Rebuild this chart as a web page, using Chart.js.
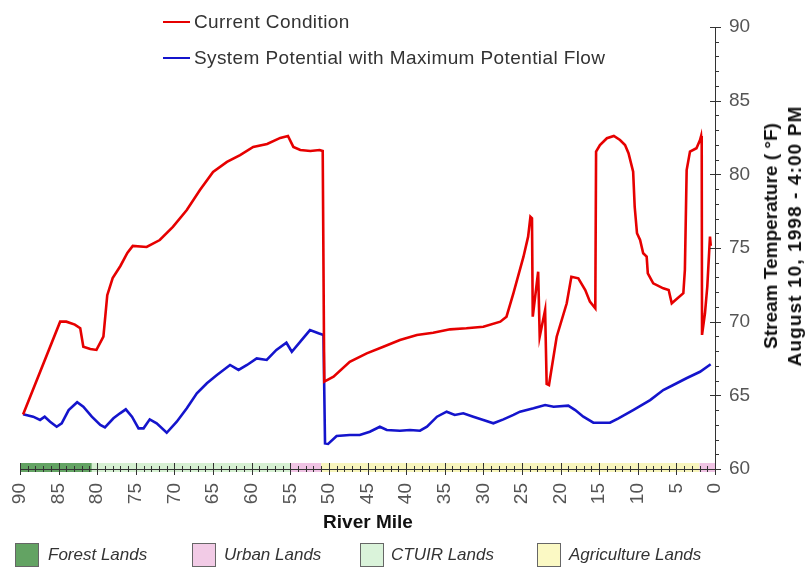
<!DOCTYPE html>
<html>
<head>
<meta charset="utf-8">
<title>Stream Temperature by River Mile</title>
<script src="https://cdn.jsdelivr.net/npm/chart.js@4/dist/chart.umd.min.js"></script>
<style>
  html, body { margin: 0; padding: 0; background: #fff; }
  #wrap { position: relative; width: 809px; height: 567px; overflow: hidden;
          font-family: "Liberation Sans", Arial, sans-serif; color: #333; }
  #chart { position: absolute; left: 0; top: 0; }
  .txt { position: absolute; white-space: nowrap; line-height: 22px; }
  .key-line { position: absolute; height: 2px; width: 27px; }
  .key-text { font-size: 19px; color: #333; letter-spacing: 0.4px; }
  .land-box { position: absolute; width: 22px; height: 22px; border: 1px solid #666; }
  .land-text { font-size: 17px; font-style: italic; color: #333; }
  .axis-title { font-size: 19px; font-weight: bold; color: #111; }
  #ytitle { position: absolute; left: 783px; top: 236px; transform: translate(-50%, -50%) rotate(-90deg);
            text-align: center; white-space: nowrap; line-height: 24px; font-size: 19px; font-weight: bold; color: #111; }
  #ytitle .l2 { letter-spacing: 1.1px; }
</style>
</head>
<body>
<div id="wrap">
  <canvas id="chart" width="809" height="567"></canvas>

  <div class="key-line" style="left:163px;top:21px;background:#e60000"></div>
  <div class="txt key-text" style="left:194px;top:11px">Current Condition</div>
  <div class="key-line" style="left:163px;top:57px;background:#1414cc"></div>
  <div class="txt key-text" style="left:194px;top:47px">System Potential with Maximum Potential Flow</div>

  <div class="txt axis-title" style="left:268px;top:511px;width:200px;text-align:center">River Mile</div>
  <div id="ytitle">Stream Temperature ( °F)<br><span class="l2">August 10, 1998 - 4:00 PM</span></div>

  <div class="land-box" style="left:15px;top:543px;background:#63a363"></div>
  <div class="txt land-text" style="left:48px;top:544px">Forest Lands</div>
  <div class="land-box" style="left:192px;top:543px;background:#f2cbe6"></div>
  <div class="txt land-text" style="left:224px;top:544px">Urban Lands</div>
  <div class="land-box" style="left:360px;top:543px;background:#daf3da"></div>
  <div class="txt land-text" style="left:391px;top:544px">CTUIR Lands</div>
  <div class="land-box" style="left:537px;top:543px;background:#fbf9c4"></div>
  <div class="txt land-text" style="left:569px;top:544px">Agriculture Lands</div>
</div>

<script>
// Current condition: river mile and stream temperature (°F)
const currentMile = [
  89.6, 84.8, 84.0, 82.9, 82.2, 81.8, 80.9, 80.1, 79.2, 78.7, 78.0, 77.0, 76.1, 75.4, 73.6,
  71.9, 70.2, 68.4, 66.7, 65.0, 63.2, 61.5, 59.8, 58.0, 56.3, 55.3, 54.6, 53.7, 52.4, 51.2,
  50.8, 50.6, 49.4, 47.3, 45.1, 42.95, 40.8, 38.6, 36.5, 34.3, 32.2, 30.0, 27.8, 27.0, 26.1,
  24.8, 24.2, 23.9, 23.7, 23.6, 22.9, 22.7, 22.0, 21.8, 21.5, 20.5, 19.2, 18.6, 17.7, 16.8,
  16.2, 15.5, 15.4, 14.9, 14.0, 13.1, 12.3, 11.65, 11.2, 10.6, 10.4, 10.1, 9.7, 9.3, 8.85,
  8.7, 8.0, 6.7, 6.0, 5.6, 4.1, 3.9, 3.67, 3.24, 2.4, 1.94, 1.8, 1.72, 1.68, 1.3,
  1.0, 0.65, 0.55
];
const currentTemp = [
  63.7, 70.0, 70.0, 69.8, 69.55, 68.3, 68.14, 68.08, 68.98, 71.8, 72.96, 73.78, 74.66, 75.14, 75.07,
  75.54, 76.43, 77.58, 78.94, 80.16, 80.84, 81.31, 81.86, 82.06, 82.47, 82.6, 81.86, 81.65, 81.58, 81.65,
  81.58, 65.93, 66.26, 67.28, 67.85, 68.3, 68.76, 69.1, 69.25, 69.48, 69.55, 69.66, 70.0, 70.34, 71.93,
  74.41, 75.77, 77.12, 77.02, 70.34, 73.39, 68.98, 70.79, 65.77, 65.7, 68.98, 71.25, 73.05, 72.94, 72.15,
  71.36, 70.91, 81.54, 81.99, 82.45, 82.6, 82.33, 81.99, 81.43, 80.18, 77.8, 76.0, 75.54, 74.64, 74.41,
  73.28, 72.6, 72.26, 72.15, 71.25, 71.93, 73.51, 80.29, 81.54, 81.77, 82.33, 82.6, 82.0, 69.1, 70.57,
  72.37, 75.77, 75.14
];

// System potential with maximum potential flow
const potentialMile = [
  89.6, 88.3, 87.4, 86.8, 86.1, 85.25, 84.6, 83.7, 82.6, 81.8, 80.7, 79.6, 79.0, 77.9, 77.05,
  76.3, 75.5, 74.65, 74.0, 73.2, 72.3, 71.0, 69.7, 68.4, 67.1, 65.8, 64.5, 62.8, 61.7, 60.6,
  59.35, 58.05, 56.8, 55.5, 54.8, 53.7, 52.45, 51.35, 50.7, 50.5, 50.1, 49.0, 47.3, 46.0, 44.7,
  43.4, 42.5, 40.8, 39.5, 38.2, 37.3, 36.0, 34.75, 33.7, 32.6, 31.3, 30.0, 28.7, 27.4, 26.1,
  25.25, 23.5, 22.0, 20.9, 19.0, 18.1, 17.05, 15.75, 13.6, 12.5, 10.6, 8.4, 6.7, 5.4, 3.7,
  1.94, 0.56
];
const potentialTemp = [
  63.71, 63.55, 63.33, 63.55, 63.21, 62.87, 63.1, 64.0, 64.53, 64.23, 63.55, 62.99, 62.83, 63.44, 63.78,
  64.05, 63.55, 62.76, 62.76, 63.37, 63.1, 62.46, 63.21, 64.12, 65.14, 65.82, 66.38, 67.06, 66.72, 67.06,
  67.51, 67.4, 68.08, 68.57, 67.96, 68.64, 69.43, 69.21, 69.1, 61.74, 61.7, 62.24, 62.31, 62.31, 62.53,
  62.87, 62.65, 62.6, 62.65, 62.6, 62.87, 63.55, 63.89, 63.67, 63.78, 63.55, 63.33, 63.1, 63.37, 63.67,
  63.89, 64.12, 64.34, 64.23, 64.3, 64.0, 63.55, 63.14, 63.14, 63.44, 64.0, 64.68, 65.36, 65.7, 66.16,
  66.6, 67.11
];

// Tick values
const mileTicks = [90, 85, 80, 75, 70, 65, 60, 55, 50, 45, 40, 35, 30, 25, 20, 15, 10, 5, 0];
const tempTicks = [60, 65, 70, 75, 80, 85, 90];

// Land use along the river (river-mile ranges)
const landFrom = [90, 80.7, 55, 51, 2];
const landTo   = [80.7, 55, 51, 2, 0];
const landKind = ['Forest Lands', 'CTUIR Lands', 'Urban Lands', 'Agriculture Lands', 'Urban Lands'];

const landColor = {
  'Forest Lands': '#63a363',
  'Urban Lands': '#f0c4e4',
  'CTUIR Lands': '#d6f0d2',
  'Agriculture Lands': '#f8f5bc'
};

const toPoints = (xs, ys) => xs.map((m, i) => ({ x: m, y: ys[i] }));

// Land-use strip, axis lines and major/minor tick marks
const axisDecor = {
  id: 'axisDecor',
  beforeDatasetsDraw(chart) {
    const { ctx, chartArea: a, scales: { x } } = chart;
    ctx.save();
    for (let i = 0; i < landFrom.length; i++) {
      const x0 = x.getPixelForValue(landFrom[i]);
      const x1 = x.getPixelForValue(landTo[i]);
      ctx.fillStyle = landColor[landKind[i]];
      ctx.fillRect(Math.min(x0, x1), a.bottom - 6, Math.abs(x1 - x0), 9);
    }
    ctx.restore();
  },
  afterDraw(chart) {
    const { ctx, chartArea: a, scales: { x, y } } = chart;
    ctx.save();
    ctx.strokeStyle = '#333';
    ctx.lineWidth = 1;
    ctx.beginPath();
    // river-mile axis
    ctx.moveTo(a.left, a.bottom + 0.5);
    ctx.lineTo(a.right, a.bottom + 0.5);
    for (let m = 0; m <= 90; m++) {
      const px = Math.round(x.getPixelForValue(m)) + 0.5;
      const major = m % 5 === 0;
      ctx.moveTo(px, a.bottom - (major ? 6 : 3));
      ctx.lineTo(px, a.bottom + (major ? 6 : 3));
    }
    // temperature axis
    ctx.moveTo(a.right + 0.5, a.top);
    ctx.lineTo(a.right + 0.5, a.bottom);
    for (let t = 60; t <= 90; t++) {
      const py = Math.round(y.getPixelForValue(t)) + 0.5;
      const major = t % 5 === 0;
      ctx.moveTo(a.right - (major ? 5 : 0), py);
      ctx.lineTo(a.right + (major ? 6 : 4), py);
    }
    ctx.stroke();
    ctx.restore();
  }
};

Chart.defaults.font.family = '"Liberation Sans", Arial, sans-serif';

new Chart(document.getElementById('chart'), {
  type: 'line',
  data: {
    datasets: [
      {
        label: 'Current Condition',
        data: toPoints(currentMile, currentTemp),
        borderColor: '#e60000',
        borderWidth: 2.6,
        pointRadius: 0,
        tension: 0
      },
      {
        label: 'System Potential with Maximum Potential Flow',
        data: toPoints(potentialMile, potentialTemp),
        borderColor: '#1414cc',
        borderWidth: 2.6,
        pointRadius: 0,
        tension: 0
      }
    ]
  },
  options: {
    responsive: false,
    animation: false,
    devicePixelRatio: 1,
    parsing: false,
    layout: { padding: { left: 20, top: 27, right: 0, bottom: 0 } },
    plugins: { legend: { display: false }, tooltip: { enabled: false } },
    scales: {
      x: {
        type: 'linear',
        position: 'bottom',
        reverse: true,
        min: 0,
        max: 90,
        grid: { display: false, drawTicks: false },
        border: { display: false },
        afterBuildTicks: s => { s.ticks = mileTicks.map(v => ({ value: v })); },
        afterFit: s => { s.height = 98; },
        ticks: {
          autoSkip: false,
          minRotation: 90,
          maxRotation: 90,
          padding: 14,
          color: '#555',
          font: { size: 19 }
        }
      },
      y: {
        type: 'linear',
        position: 'right',
        min: 60,
        max: 90,
        grid: { display: false, drawTicks: false },
        border: { display: false },
        afterBuildTicks: s => { s.ticks = tempTicks.map(v => ({ value: v })); },
        afterFit: s => { s.width = 94; },
        ticks: {
          padding: 14,
          color: '#555',
          font: { size: 19 }
        }
      }
    }
  },
  plugins: [axisDecor]
});
</script>
</body>
</html>
